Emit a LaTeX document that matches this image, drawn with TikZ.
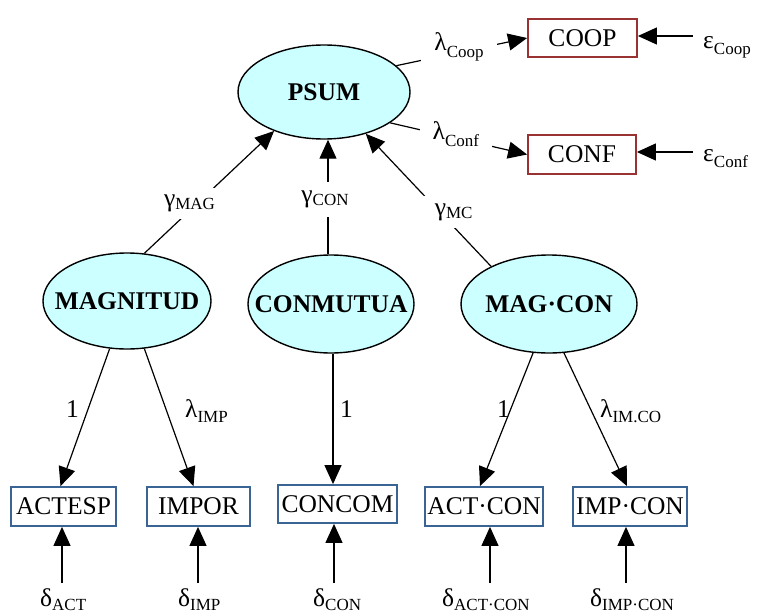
\documentclass[tikz,border=0pt]{standalone}
\usepackage{fontspec}
\setmainfont{Liberation Serif}
\usetikzlibrary{arrows.meta,shapes.geometric}
\definecolor{lvfill}{HTML}{CCFFFF}
\definecolor{boxred}{HTML}{993333}
\definecolor{boxblue}{HTML}{3A6494}
% lowered small subscript
\newcommand\sbx[2][5pt]{\raisebox{-#1}{\fontsize{17}{17}\selectfont #2}}
\begin{document}
\begin{tikzpicture}[x=1pt,y=-1pt,
  latent/.style={ellipse, draw=black, line width=1.4pt, fill=lvfill, inner sep=0pt,
    font=\fontsize{25.5}{30}\selectfont\bfseries},
  obsred/.style={rectangle, draw=boxred, line width=1.8pt, inner sep=0pt,
    minimum height=38pt, font=\fontsize{25.5}{30}\selectfont},
  obsblue/.style={rectangle, draw=boxblue, line width=1.8pt, inner sep=0pt,
    minimum height=39pt, font=\fontsize{25.5}{30}\selectfont},
  lbl/.style={inner sep=1pt, font=\fontsize{25.5}{30}\selectfont},
  gap/.style={lbl, fill=white, inner xsep=4pt, inner ysep=7pt},
  arr/.style={line width=1.2pt, -{Triangle[length=19pt,width=17pt]}}
]
\useasboundingbox (0,0) rectangle (757,615);

% latent variables
\node[latent, minimum width=172pt, minimum height=94pt] (psum) at (324,92) {\makebox[0pt]{\raisebox{-3pt}{PSUM}}};
\node[latent, minimum width=168pt, minimum height=96pt] (mag) at (127,301) {\makebox[0pt]{\raisebox{-3pt}{MAGNITUD}}};
\node[latent, minimum width=166pt, minimum height=98pt] (con) at (331,304) {\makebox[0pt]{\raisebox{-5pt}{CONMUTUA}}};
\node[latent, minimum width=176pt, minimum height=98pt] (mc) at (549,304) {\makebox[0pt]{MAG·CON}};

% indicators of PSUM
\node[obsred, minimum width=109pt] (coop) at (582.5,38) {COOP};
\node[obsred, minimum width=108pt, minimum height=39pt] (conf) at (582,154.5) {CONF};

% indicators of the exogenous factors
\node[obsblue, minimum width=105pt] (actesp) at (63.5,506.5) {ACTESP};
\node[obsblue, minimum width=103pt] (impor) at (198.5,506.5) {IMPOR};
\node[obsblue, minimum width=119pt, minimum height=38pt] (concom) at (337.5,504) {CONCOM};
\node[obsblue, minimum width=118pt] (actcon) at (484,506.5) {ACT·CON};
\node[obsblue, minimum width=114pt] (impcon) at (630,506.5) {IMP·CON};

% structural paths
\draw[arr] (mag.70) -- node[gap, pos=0.41] (gmag) {γ\sbx[3pt]{MAG}\hspace*{16pt}} (psum.218);
\draw[arr] ([xshift=-3pt]con.north) -- node[gap, pos=0.48, inner ysep=9pt] (gcon) {γ\sbx[3pt]{CON}\hspace*{6pt}} ([xshift=-3pt]con.north |- psum.south);
\draw[arr] (mc.147) -- node[gap, pos=0.41] (gmc) {\hspace*{28pt}γ\sbx[3pt]{MC}} (psum.-45);

% loadings of PSUM
\draw[arr] (psum.20) -- node[gap, pos=0.48, inner xsep=13pt, inner ysep=6pt, yshift=6pt] (lcoop) {λ\sbx[7pt]{Coop}} (coop.west);
\draw[arr] (psum.-25) -- node[gap, pos=0.48, inner xsep=13pt, inner ysep=5pt, yshift=4pt] (lconf) {λ\sbx[7pt]{Conf}} (conf.west);

% errors of PSUM indicators
\coordinate (ecoopS) at (693,36);
\coordinate (econfS) at (693,152);
\draw[arr] (ecoopS) -- (ecoopS -| coop.east);
\draw[arr] (econfS) -- (econfS -| conf.east);
\node[lbl, anchor=base west] (ecoop) at (702,49) {ε\sbx[6pt]{Coop}};
\node[lbl, anchor=base west] (econf) at (702,161) {ε\sbx[6pt]{Conf}};

% measurement loadings
\draw[arr] (mag.250) -- ([xshift=-3pt]actesp.north);
\draw[arr] (mag.290) -- ([xshift=-5pt]impor.north);
\draw[arr] ([xshift=2pt]con.south) -- ([xshift=2pt]con.south |- concom.north);
\draw[arr] (mc.252) -- ([xshift=-4pt]actcon.north);
\draw[arr] (mc.287) -- ([xshift=-3pt]impcon.north);
\node[lbl, anchor=base west] (l1a) at (65,417) {1};
\node[lbl, anchor=base west] (limp) at (184,417) {λ\sbx{IMP}};
\node[lbl, anchor=base west] (l1b) at (339,417) {1};
\node[lbl, anchor=base west] (l1c) at (496,417) {1};
\node[lbl, anchor=base west] (limco) at (599,417) {λ\sbx{IM.CO}};

% measurement errors
\coordinate (dactS) at (62,583);
\coordinate (dimpS) at (198,583);
\coordinate (dconS) at (334,583);
\coordinate (dacS) at (490,583);
\coordinate (dicS) at (626,583);
\draw[arr] (dactS) -- (dactS |- actesp.south);
\draw[arr] (dimpS) -- (dimpS |- impor.south);
\draw[arr] (dconS) -- (dconS |- concom.south);
\draw[arr] (dacS) -- (dacS |- actcon.south);
\draw[arr] (dicS) -- (dicS |- impcon.south);
\node[lbl, anchor=base west] (dact) at (39,606) {δ\sbx[4pt]{ACT}};
\node[lbl, anchor=base west] (dimp) at (177,606) {δ\sbx[4pt]{IMP}};
\node[lbl, anchor=base west] (dcon) at (312,606) {δ\sbx[4pt]{CON}};
\node[lbl, anchor=base west] (dac) at (441,606) {δ\sbx[4pt]{ACT·CON}};
\node[lbl, anchor=base west] (dic) at (589,606) {δ\sbx[4pt]{IMP·CON}};
\end{tikzpicture}
\end{document}
